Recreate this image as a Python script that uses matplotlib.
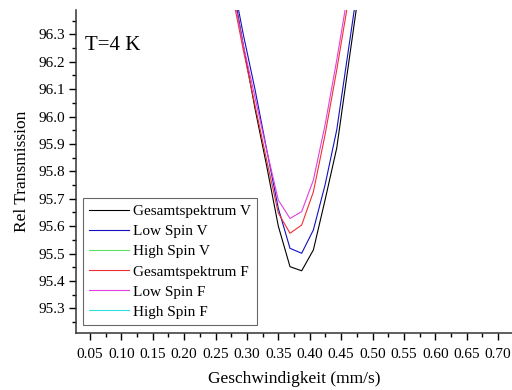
import matplotlib
matplotlib.use("Agg")
import matplotlib.pyplot as plt
from matplotlib.ticker import MultipleLocator, FormatStrFormatter

plt.rcParams.update({
    "font.family": "serif", "font.serif": ["Liberation Serif"],
    "font.size": 10, "xtick.direction": "out", "ytick.direction": "out",
})

# velocity grid of the spectrum channels (mm/s)
velocity = [0.2569, 0.2755, 0.2941, 0.3127, 0.3313, 0.3499, 0.3685, 0.3871,
            0.4057, 0.4243, 0.4429, 0.4615, 0.4801]

gesamt_v = [96.70, 96.50, 96.261, 96.030, 95.820, 95.600, 95.452, 95.437,
            95.513, 95.695, 95.885, 96.188, 96.49]
low_v = [96.72, 96.52, 96.300, 96.100, 95.880, 95.665, 95.519, 95.501,
         95.586, 95.750, 95.951, 96.243, 96.535]
gesamt_f = [96.68, 96.46, 96.243, 96.042, 95.841, 95.648, 95.574, 95.604,
            95.725, 95.933, 96.170, 96.425, 96.70]
low_f = [96.70, 96.48, 96.261, 96.071, 95.878, 95.695, 95.628, 95.653,
         95.768, 95.969, 96.206, 96.462, 96.72]

fig = plt.figure(figsize=(5.12, 3.9), dpi=100)
ax = fig.add_axes([0.1484, 0.1462, 0.8516, 0.8282])

lw = 0.8
ax.plot(velocity, gesamt_v, color="#000000", lw=lw, label="Gesamtspektrum V")
ax.plot(velocity, low_v, color="#1010c0", lw=lw, label="Low Spin V")
ax.plot([], [], color="#60e060", lw=lw, label="High Spin V")
ax.plot(velocity, gesamt_f, color="#f03030", lw=lw, label="Gesamtspektrum F")
ax.plot(velocity, low_f, color="#e040e0", lw=lw, label="Low Spin F")
ax.plot([], [], color="#30e0e0", lw=lw, label="High Spin F")

ax.set_xlim(0.0277, 0.722)
ax.set_ylim(95.21, 96.389)
ax.xaxis.set_major_locator(MultipleLocator(0.05))
ax.xaxis.set_minor_locator(MultipleLocator(0.025))
ax.yaxis.set_major_locator(MultipleLocator(0.1))
ax.yaxis.set_minor_locator(MultipleLocator(0.05))
ax.xaxis.set_major_formatter(FormatStrFormatter("%.2f"))
ax.yaxis.set_major_formatter(FormatStrFormatter("%.1f"))
ax.tick_params(which="major", length=5, width=1, labelsize=11, pad=3)
ax.tick_params(which="minor", length=3, width=1)
ax.tick_params(axis="x", pad=6)
for s in ("top", "right"):
    ax.spines[s].set_visible(False)
for s in ("left", "bottom"):
    ax.spines[s].set_linewidth(1.1)
    ax.spines[s].set_color("#333333")

ax.set_xlabel("Geschwindigkeit (mm/s)", fontsize=12.5, labelpad=7)
ax.set_ylabel("Rel Transmission", fontsize=12.5, labelpad=6)
ax.text(0.02, 0.92, "T=4 K", transform=ax.transAxes, fontsize=15, va="top")

leg = ax.legend(loc="lower left", bbox_to_anchor=(0.016, 0.025), fontsize=11,
                frameon=True, fancybox=False, edgecolor="#444444",
                handlelength=2.6, handletextpad=0.3, labelspacing=0.42,
                borderpad=0.4, borderaxespad=0)
leg.get_frame().set_linewidth(0.8)

fig.savefig("out.png", dpi=100)
